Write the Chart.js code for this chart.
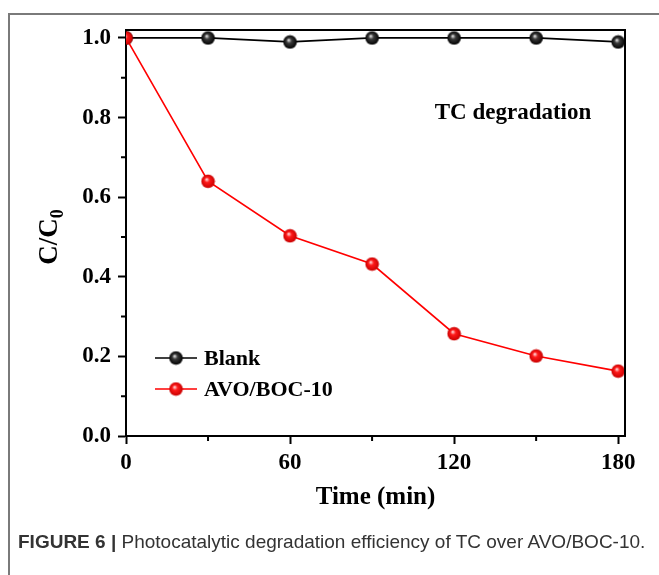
<!DOCTYPE html>
<html>
<head>
<meta charset="utf-8">
<script src="https://cdn.jsdelivr.net/npm/chart.js@4.4.1/dist/chart.umd.min.js"></script>
<style>
  html, body { margin: 0; padding: 0; background: #fff; }
  body { width: 659px; height: 575px; position: relative; overflow: hidden; }
  #frame { position: absolute; left: 8px; top: 13px; width: 700px; height: 600px;
           border-left: 2px solid #7a7a7a; border-top: 2px solid #7a7a7a; }
  #wrap { position: absolute; left: 0; top: 0; width: 659px; height: 575px; }
  #caption { position: absolute; left: 18px; top: 531px; white-space: nowrap;
             font-family: "Liberation Sans", Arial, sans-serif; font-size: 19px; color: #333; }
  #caption b { font-weight: bold; }
</style>
</head>
<body>
<div id="frame"></div>
<div id="wrap"><canvas id="c" width="659" height="575"></canvas></div>
<div id="caption"><b>FIGURE 6 |</b> Photocatalytic degradation efficiency of TC over AVO/BOC-10.</div>
<script>
// ---- data ----
const times = [0, 30, 60, 90, 120, 150, 180];
const blankValues = [1.0, 1.0, 0.99, 1.0, 1.0, 1.0, 0.99];
const avoValues = [1.0, 0.64, 0.503, 0.432, 0.257, 0.201, 0.163];
const seriesNames = ['Blank', 'AVO/BOC-10'];
const xTickValues = [0, 60, 120, 180];
const yTickValues = [0.0, 0.2, 0.4, 0.6, 0.8, 1.0];
const xMinorTicks = [30, 90, 150];
const yMinorTicks = [0.1, 0.3, 0.5, 0.7, 0.9];
const xTitle = 'Time (min)';
const yTitleMain = 'C/C';
const yTitleSub = '0';
const annotationText = 'TC degradation';

// ---- sphere markers ----
function sphere(base, mid, dark) {
  const r = 6.8, s = 15;
  const c = document.createElement('canvas');
  c.width = s; c.height = s;
  const g = c.getContext('2d');
  const grad = g.createRadialGradient(s/2 - 1.5, s/2 - 2, 0.3, s/2, s/2, r);
  grad.addColorStop(0, base);
  grad.addColorStop(0.35, mid);
  grad.addColorStop(1, dark);
  g.fillStyle = grad;
  g.beginPath(); g.arc(s/2, s/2, r, 0, Math.PI * 2); g.fill();
  return c;
}
const blackBall = sphere('#e8e8e8', '#3a3a3a', '#000000');
const redBall = sphere('#ffe0e0', '#ff1a1a', '#c80000');

const serif = '"Liberation Serif", "Times New Roman", serif';

const extras = {
  id: 'extras',
  afterDraw(chart) {
    const ctx = chart.ctx;
    const a = chart.chartArea;
    const xs = chart.scales.x, ys = chart.scales.y;
    ctx.save();
    // top & right frame
    ctx.strokeStyle = '#000';
    ctx.lineWidth = 2;
    ctx.beginPath();
    ctx.moveTo(a.left, a.top); ctx.lineTo(a.right, a.top); ctx.lineTo(a.right, a.bottom);
    ctx.stroke();
    // minor ticks
    ctx.beginPath();
    yMinorTicks.forEach(v => { const y = ys.getPixelForValue(v); ctx.moveTo(a.left, y); ctx.lineTo(a.left - 5, y); });
    xMinorTicks.forEach(v => { const x = xs.getPixelForValue(v); ctx.moveTo(x, a.bottom); ctx.lineTo(x, a.bottom + 5); });
    ctx.stroke();
    // y title with subscript
    ctx.fillStyle = '#000';
    ctx.translate(48, (a.top + a.bottom) / 2 + 4);
    ctx.rotate(-Math.PI / 2);
    ctx.font = 'bold 27px ' + serif;
    const w1 = ctx.measureText(yTitleMain).width;
    ctx.font = 'bold 18px ' + serif;
    const w2 = ctx.measureText(yTitleSub).width;
    const start = -(w1 + w2) / 2;
    ctx.textBaseline = 'alphabetic';
    ctx.textAlign = 'left';
    ctx.font = 'bold 27px ' + serif;
    ctx.fillText(yTitleMain, start, 9);
    ctx.font = 'bold 18px ' + serif;
    ctx.fillText(yTitleSub, start + w1, 15);
    ctx.restore();

    ctx.save();
    // annotation
    ctx.fillStyle = '#000';
    ctx.font = 'bold 23px ' + serif;
    ctx.textAlign = 'center';
    ctx.textBaseline = 'middle';
    ctx.fillText(annotationText, 513, 113);
    // legend
    const items = [
      { y: 358, color: '#000', img: blackBall, label: seriesNames[0] },
      { y: 389, color: '#ff0000', img: redBall, label: seriesNames[1] }
    ];
    ctx.font = 'bold 22px ' + serif;
    ctx.textAlign = 'left';
    items.forEach(it => {
      ctx.strokeStyle = it.color;
      ctx.lineWidth = 1.6;
      ctx.beginPath(); ctx.moveTo(155, it.y); ctx.lineTo(197, it.y); ctx.stroke();
      ctx.drawImage(it.img, 176 - it.img.width / 2, it.y - it.img.height / 2);
      ctx.fillStyle = '#000';
      ctx.fillText(it.label, 204, it.y + 1);
    });
    ctx.restore();
  }
};

const toXY = vals => times.map((t, i) => ({ x: t, y: vals[i] }));

new Chart(document.getElementById('c'), {
  type: 'line',
  data: {
    datasets: [
      { label: seriesNames[0], data: toXY(blankValues), borderColor: '#000', borderWidth: 1.7,
        pointStyle: blackBall, pointRadius: 6, order: 1, tension: 0 },
      { label: seriesNames[1], data: toXY(avoValues), borderColor: '#ff0000', borderWidth: 1.6,
        pointStyle: redBall, pointRadius: 6, order: 0, tension: 0 }
    ]
  },
  options: {
    responsive: false,
    animation: false,
    events: [],
    layout: { padding: { top: 30, right: 34, left: 0, bottom: 0 } },
    plugins: { legend: { display: false }, tooltip: { enabled: false } },
    scales: {
      x: {
        type: 'linear', min: 0, max: 182.5,
        afterBuildTicks: s => { s.ticks = xTickValues.map(v => ({ value: v })); },
        afterFit: s => { s.height = 139; },
        ticks: { color: '#000', font: { family: serif, size: 23, weight: 'bold' }, padding: 5, maxRotation: 0,
                 callback: v => String(v) },
        grid: { drawOnChartArea: false, tickLength: 8, tickWidth: 2, tickColor: '#000' },
        border: { color: '#000', width: 2 },
        title: { display: true, text: xTitle, color: '#000', font: { family: serif, size: 25, weight: 'bold' },
                 padding: { top: 0, bottom: 62 } }
      },
      y: {
        type: 'linear', min: 0, max: 1.02,
        afterBuildTicks: s => { s.ticks = yTickValues.map(v => ({ value: v })); },
        afterFit: s => { s.width = 126; },
        ticks: { color: '#000', font: { family: serif, size: 23, weight: 'bold' }, padding: 7,
                 callback: v => Number(v).toFixed(1) },
        grid: { drawOnChartArea: false, tickLength: 8, tickWidth: 2, tickColor: '#000' },
        border: { color: '#000', width: 2 }
      }
    }
  },
  plugins: [extras]
});
</script>
</body>
</html>
